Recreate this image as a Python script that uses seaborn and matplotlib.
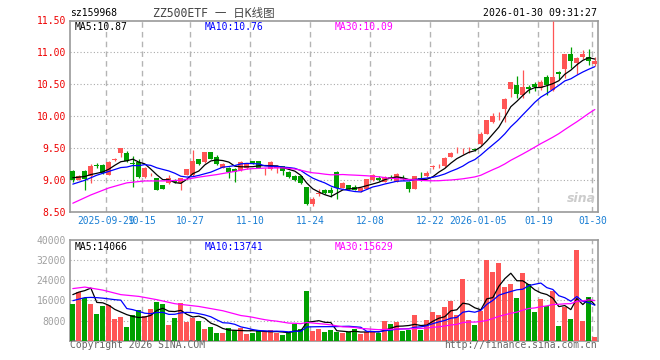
import numpy as np
import pandas as pd
import matplotlib
matplotlib.use('Agg')
import matplotlib.pyplot as plt
import seaborn as sns

# ---------- # Datos (88 sesiones) # ---------- #
fechas_tick = ['2025-09-29', '10-15', '10-27', '11-10', '11-24',
               '12-08', '12-22', '2026-01-05', '01-19', '01-30']
pos_tick = [6, 12, 20, 30, 40, 50, 60, 68, 78, 87]

apertura = [9.14, 9.00, 9.14, 9.06, 9.225, 9.23, 9.08, 9.31, 9.42, 9.42,
            9.26, 9.27, 9.04, 9.07, 9.02, 8.91, 8.95, 9.00, 8.95, 9.08,
            9.08, 9.32, 9.27, 9.44, 9.36, 9.19, 9.19, 9.17, 9.15, 9.18,
            9.29, 9.29, 9.13, 9.16, 9.19, 9.21, 9.12, 9.06, 9.05, 8.88,
            8.61, 8.78, 8.84, 8.83, 9.12, 8.875, 8.91, 8.89, 8.82, 8.86,
            8.995, 9.02, 8.965, 9.045, 8.965, 9.025, 8.965, 8.86, 9.03, 9.05,
            9.20, 9.21, 9.21, 9.36, 9.46, 9.45, 9.46, 9.475, 9.56, 9.72,
            9.91, 10.00, 10.11, 10.42, 10.49, 10.33, 10.46, 10.51, 10.44, 10.62,
            10.41, 10.69, 10.74, 10.97, 10.83, 10.92, 10.93, 10.82]
maximo = [9.15, 9.07, 9.15, 9.24, 9.26, 9.24, 9.29, 9.34, 9.50, 9.45,
          9.37, 9.32, 9.20, 9.10, 9.03, 8.92, 9.07, 9.01, 9.03, 9.17,
          9.47, 9.33, 9.44, 9.44, 9.38, 9.26, 9.20, 9.18, 9.29, 9.25,
          9.30, 9.30, 9.19, 9.29, 9.23, 9.22, 9.13, 9.07, 9.06, 8.89,
          8.72, 8.85, 8.86, 8.88, 9.135, 8.96, 8.92, 8.92, 8.88, 9.01,
          9.09, 9.06, 9.06, 9.08, 9.10, 9.08, 8.98, 9.06, 9.12, 9.14,
          9.23, 9.24, 9.35, 9.44, 9.52, 9.50, 9.51, 9.49, 9.745, 9.94,
          10.04, 10.07, 10.28, 10.54, 10.63, 10.72, 10.49, 10.54, 10.57, 10.65,
          11.50, 10.70, 10.97, 11.08, 10.93, 11.04, 11.05, 10.92]
minimo = [8.97, 8.99, 8.84, 8.95, 9.19, 9.09, 9.07, 9.29, 9.36, 9.27,
          8.89, 9.02, 9.02, 9.05, 8.83, 8.85, 8.93, 8.95, 8.84, 9.07,
          9.06, 9.23, 9.26, 9.32, 9.23, 9.18, 9.02, 8.96, 9.14, 9.17,
          9.25, 9.18, 9.07, 9.15, 9.10, 9.07, 9.03, 8.98, 8.93, 8.60,
          8.59, 8.74, 8.78, 8.72, 8.70, 8.87, 8.85, 8.83, 8.81, 8.85,
          8.98, 8.98, 8.96, 8.99, 8.96, 8.99, 8.81, 8.85, 8.98, 9.04,
          9.17, 9.19, 9.20, 9.35, 9.42, 9.40, 9.42, 9.45, 9.54, 9.71,
          9.89, 9.94, 9.90, 10.30, 10.28, 10.29, 10.36, 10.40, 10.41, 10.33,
          10.40, 10.58, 10.59, 10.75, 10.66, 10.90, 10.80, 10.78]
cierre = [9.00, 9.06, 9.01, 9.21, 9.22, 9.11, 9.27, 9.32, 9.49, 9.29,
          9.24, 9.04, 9.18, 9.08, 8.84, 8.86, 9.03, 8.96, 9.02, 9.16,
          9.30, 9.24, 9.44, 9.33, 9.24, 9.25, 9.12, 9.12, 9.28, 9.24,
          9.26, 9.19, 9.14, 9.27, 9.22, 9.14, 9.04, 9.00, 8.94, 8.61,
          8.69, 8.79, 8.79, 8.79, 8.875, 8.95, 8.86, 8.84, 8.875, 9.005,
          9.08, 8.995, 9.045, 9.005, 9.095, 9.005, 8.86, 9.05, 9.005, 9.11,
          9.205, 9.22, 9.34, 9.42, 9.465, 9.455, 9.465, 9.47, 9.72, 9.93,
          9.995, 10.005, 10.27, 10.53, 10.35, 10.46, 10.43, 10.46, 10.54, 10.49,
          10.62, 10.66, 10.97, 10.86, 10.91, 10.97, 10.87, 10.86]
volumen = [14670, 19200, 16800, 14670, 10670, 13870, 14270, 8670, 9470, 5470,
           10270, 12130, 9730, 12670, 15330, 14530, 6270, 9070, 15070, 7470,
           9200, 8000, 4670, 5470, 3070, 3070, 4930, 4130, 4930, 2670,
           3200, 4270, 3330, 4270, 3070, 2270, 2930, 6670, 4670, 19870,
           3870, 4670, 3470, 4270, 3470, 2930, 3470, 4670, 2670, 3600,
           3470, 3200, 7870, 6670, 7470, 3870, 4270, 10270, 4270, 8270,
           11470, 10270, 13470, 15870, 10270, 24670, 8270, 6270, 11870, 32000,
           27200, 30670, 21470, 22670, 17070, 27070, 22670, 11470, 16670, 13870,
           19870, 5870, 13470, 8670, 35870, 7870, 17470, 1470]

# Medias al inicio de la ventana (dependen de sesiones anteriores)
ma5_ini = [9.03, 9.04, 9.05, 9.08]
ma10_ini = [8.93, 8.96, 8.99, 9.03, 9.07, 9.10, 9.13, 9.16, 9.19]
ma30_ini_x = [0, 3, 6, 9, 12, 15, 18, 21, 24, 27]
ma30_ini = [8.63, 8.76, 8.87, 8.95, 8.98, 8.98, 8.99, 9.04, 9.08, 9.13]

vol_ma5_ini = [18300, 19300, 19900, 20900]
vol_ma10_ini = [15900, 16500, 17100, 17200, 17100, 16900, 16600, 16300, 16100]
vol_ma30_ini_x = [0, 2, 5, 8, 11, 14, 17, 21, 25, 28]
vol_ma30_ini = [20700, 21300, 20100, 18300, 17600, 16300, 14700, 13600,
                11900, 10000]

# Colores del gráfico de Sina
ROJO = '#ff5555'
VERDE = '#00a000'
GRIS = '#999999'

df = pd.DataFrame({'o': apertura, 'h': maximo, 'l': minimo,
                   'c': cierre, 'v': volumen})
df['i'] = np.arange(len(df))
df['sube'] = df['c'] >= df['o']
n = len(df)


# --- # Media móvil con los primeros valores # --- #
def media_movil(serie, ventana, inicio):
    m = serie.rolling(ventana).mean()
    m.iloc[:ventana - 1] = inicio
    return m


def media30(serie, ini_x, ini_y):
    m = serie.rolling(30).mean()
    xs = list(ini_x) + list(range(29, n))
    ys = list(ini_y) + list(m.iloc[29:])
    return xs, ys


sns.set_style('white')
plt.rcParams['font.family'] = ['DejaVu Sans Mono', 'Noto Sans CJK SC']

fig = plt.figure(figsize=(6.6, 3.6), dpi=100)
W, H = 660, 360
ax1 = fig.add_axes([70.3 / W, 1 - 211.5 / H, 527.4 / W, 191 / H])
ax2 = fig.add_axes([70.3 / W, 1 - 340.7 / H, 527.4 / W, 100.7 / H])

xmin, xmax = -0.42, 87.48

# ----- # Panel de precios: velas # ----- #
col = [ROJO if s else VERDE for s in df['sube']]
ax1.vlines(df['i'], df['l'], df['h'], colors=col, linewidth=0.9, zorder=3)
cuerpo = np.maximum((df['c'] - df['o']).abs(), 0.007)
ax1.bar(df['i'], cuerpo, bottom=np.minimum(df['o'], df['c']), width=0.83,
        color=col, linewidth=0, zorder=4)

cierre_s = df['c']
sns.lineplot(x=df['i'], y=media_movil(cierre_s, 5, ma5_ini), color='black',
             linewidth=0.9, ax=ax1, zorder=5)
sns.lineplot(x=df['i'], y=media_movil(cierre_s, 10, ma10_ini), color='#0000ff',
             linewidth=0.9, ax=ax1, zorder=5)
x30, y30 = media30(cierre_s, ma30_ini_x, ma30_ini)
sns.lineplot(x=x30, y=y30, color='#ff00ff', linewidth=0.9, ax=ax1, zorder=5)

ax1.set_xlim(xmin, xmax)
ax1.set_ylim(8.5, 11.5)
ax1.set_yticks([8.5, 9.0, 9.5, 10.0, 10.5, 11.0, 11.5])
ax1.set_yticklabels(['%.2f' % t for t in ax1.get_yticks()])
ax1.set_xticks([p - 0.42 for p in pos_tick])
ax1.set_xticklabels(fechas_tick)
ax1.tick_params(axis='y', length=0, pad=3, labelsize=7, labelcolor='#ee0000')
ax1.tick_params(axis='x', length=0, pad=3.5, labelsize=6.9,
                labelcolor='#1a7fd4')
for t in [9.0, 9.5, 10.0, 10.5, 11.0]:
    ax1.axhline(t, color='#aaaaaa', linewidth=0.8, linestyle=(0, (1, 2)),
                zorder=1)
ax1.set_xlabel('')
ax1.set_ylabel('')

# ----- # Panel de volumen # ----- #
sns.barplot(data=df, x='i', y='v', hue='sube',
            palette={True: ROJO, False: VERDE}, native_scale=True,
            dodge=False, width=0.83, errorbar=None, saturation=1,
            legend=False, linewidth=0, ax=ax2, zorder=3)
vol_s = df['v'].astype(float)
sns.lineplot(x=df['i'], y=media_movil(vol_s, 5, vol_ma5_ini), color='black',
             linewidth=0.9, ax=ax2, zorder=5)
sns.lineplot(x=df['i'], y=media_movil(vol_s, 10, vol_ma10_ini),
             color='#0000ff', linewidth=0.9, ax=ax2, zorder=5)
vx30, vy30 = media30(vol_s, vol_ma30_ini_x, vol_ma30_ini)
sns.lineplot(x=vx30, y=vy30, color='#ff00ff', linewidth=0.9, ax=ax2, zorder=5)

ax2.set_xlim(xmin, xmax)
ax2.set_ylim(0, 40000)
ax2.set_yticks([8000, 16000, 24000, 32000, 40000])
ax2.set_yticklabels(['8000', '16000', '24000', '32000', '40000'])
ax2.set_xticks([])
ax2.tick_params(axis='y', length=0, pad=3, labelsize=7, labelcolor='#a0a0a0')
for t in [8000, 16000, 24000, 32000]:
    ax2.axhline(t, color='#aaaaaa', linewidth=0.8, linestyle=(0, (1, 2)),
                zorder=1)
ax2.set_xlabel('')
ax2.set_ylabel('')

# Rejilla vertical y marcos grises
for ax in (ax1, ax2):
    for p in pos_tick:
        ax.axvline(p - 0.42, color='#b4b4b4', linewidth=1.0,
                   linestyle=(0, (4, 3)), zorder=1)
    for s in ax.spines.values():
        s.set_color(GRIS)
        s.set_linewidth(1.2)
    ax.set_facecolor('white')


# ----- # Textos # ----- #
def texto(x, y, s, **kw):
    fig.text(x / W, 1 - y / H, s, va='center', **kw)


texto(70, 13.3, 'sz159968', fontsize=7, color='black')
texto(214, 13.3, 'ZZ500ETF 一 日K线图', fontsize=8.3, color='#444444',
      ha='center')
texto(597, 13.3, '2026-01-30 09:31:27', fontsize=7.1, color='black',
      ha='right')

texto(75, 26.5, 'MA5:10.87', fontsize=7, color='black')
texto(204.5, 26.5, 'MA10:10.76', fontsize=7, color='#0000ff')
texto(335, 26.5, 'MA30:10.09', fontsize=7, color='#ff00ff')

texto(75, 246.5, 'MA5:14066', fontsize=7, color='black')
texto(204.5, 246.5, 'MA10:13741', fontsize=7, color='#0000ff')
texto(335, 246.5, 'MA30:15629', fontsize=7, color='#ff00ff')

texto(70, 345.5, 'Copyright 2026 SINA.COM', fontsize=7, color='#666666')
texto(597, 345.5, 'http://finance.sina.com.cn', fontsize=7, color='#666666',
      ha='right')

# Marca de agua de Sina
texto(581, 198, 'sina', fontsize=9, color='#cccccc', ha='center',
      fontweight='bold', fontstyle='italic', family='DejaVu Sans')

fig.savefig('out.png', dpi=100)
